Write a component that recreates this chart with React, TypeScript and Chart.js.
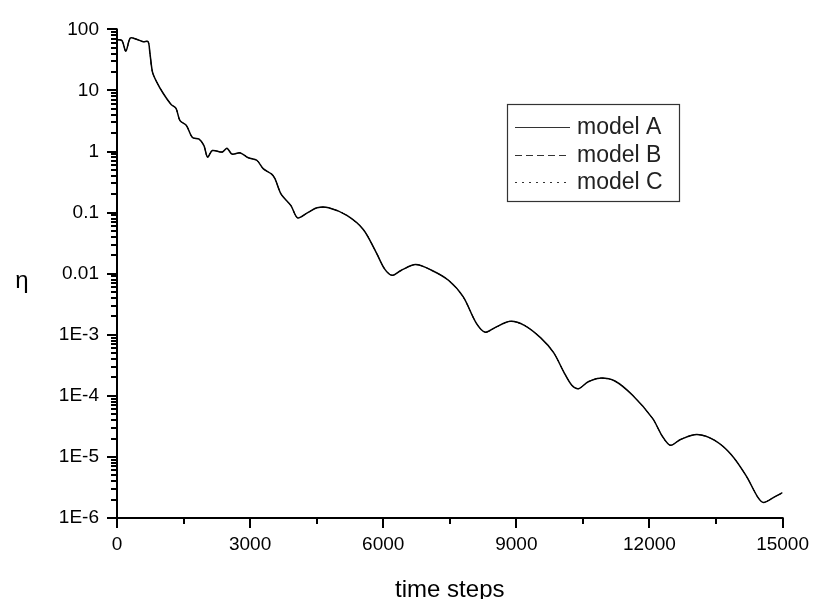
import React, { useEffect, useRef } from "react";
import { Chart, registerables } from "chart.js";

Chart.register(...registerables);

// time steps (x) and eta values (y)
const steps = [
  0, 110, 200, 300, 440, 590, 700, 740, 800, 890, 1040, 1220, 1330, 1420, 1560,
  1700, 1850, 1960, 2040, 2150, 2370, 2480, 2590, 2780, 2960, 3150, 3300, 3480,
  3560, 3700, 3920, 4070, 4290, 4510, 4770, 5180, 5550, 5840, 6030, 6200, 6400,
  6730, 7100, 7470, 7800, 8100, 8300, 8510, 8860, 9180, 9550, 9840, 10070, 10250,
  10400, 10620, 10880, 11220, 11620, 12070, 12290, 12470, 12700, 13070, 13470,
  13840, 14180, 14440, 14570, 14810, 15000,
];
const modelA = [
  68, 66, 44, 72, 69, 63, 63, 42, 20, 14, 9.0, 5.9, 5.1, 3.2, 2.7,
  1.7, 1.6, 1.25, 0.81, 1.04, 0.98, 1.13, 0.91, 0.95, 0.79, 0.72, 0.52, 0.43,
  0.36, 0.2, 0.13, 0.082, 0.099, 0.12, 0.12, 0.09, 0.053, 0.0224, 0.012, 0.0094, 0.0113,
  0.0141, 0.0113, 0.0078, 0.0042, 0.00154, 0.0011, 0.0013, 0.00166, 0.00143, 0.00089, 0.00051, 0.000245, 0.000149,
  0.000131, 0.00017, 0.000195, 0.000175, 0.000102, 0.0000427, 0.0000218, 0.0000155, 0.0000193, 0.0000233, 0.0000187,
  0.000011, 0.0000049, 0.0000022, 0.0000018, 0.0000022, 0.0000026,
];
const modelB = modelA.slice();
const modelC = modelA.slice();

const seriesNames = ["model A", "model B", "model C"];
const seriesDashes: number[][] = [[], [7, 4], [2, 5]];

const yTickValues = [1e-6, 1e-5, 1e-4, 1e-3, 0.01, 0.1, 1, 10, 100];
const yTickLabels = ["1E-6", "1E-5", "1E-4", "1E-3", "0.01", "0.1", "1", "10", "100"];
const xMajorStep = 3000;
const xMinorStep = 1500;
const xMax = 15000;
const xTitle = "time steps";
const yTitle = "η";

const FONT = "'Liberation Sans', Arial, Helvetica, sans-serif";

const axesPlugin = {
  id: "originAxes",
  afterDraw(chart: any) {
    const { ctx, chartArea } = chart;
    const xs = chart.scales.x;
    const ys = chart.scales.y;
    const L = chartArea.left;
    const B = chartArea.bottom;
    ctx.save();
    ctx.strokeStyle = "#000";
    ctx.lineWidth = 2;
    ctx.beginPath();
    ctx.moveTo(L, ys.getPixelForValue(100) - 1);
    ctx.lineTo(L, B);
    ctx.lineTo(xs.getPixelForValue(xMax) + 1, B);
    ctx.stroke();
    // y ticks
    for (let e = -6; e <= 2; e++) {
      for (let k = 1; k <= 9; k++) {
        const v = k * Math.pow(10, e);
        if (v > 100.0001) break;
        const p = Math.round(ys.getPixelForValue(v));
        const len = k === 1 ? 10 : 6;
        ctx.beginPath();
        ctx.moveTo(L - len, p);
        ctx.lineTo(L, p);
        ctx.stroke();
      }
    }
    // x ticks
    for (let v = 0; v <= xMax; v += xMinorStep) {
      const p = Math.round(xs.getPixelForValue(v));
      const len = v % xMajorStep === 0 ? 10 : 6;
      ctx.beginPath();
      ctx.moveTo(p, B);
      ctx.lineTo(p, B + len);
      ctx.stroke();
    }
    // axis titles
    ctx.fillStyle = "#000";
    ctx.font = `24px ${FONT}`;
    ctx.textAlign = "center";
    ctx.textBaseline = "alphabetic";
    ctx.fillText(xTitle, (chartArea.left + chartArea.right) / 2, 597);
    ctx.fillText(yTitle, 22, 288);

    // legend
    const bx = 507.5, by = 104.5, bw = 172, bh = 97;
    ctx.strokeStyle = "#333";
    ctx.lineWidth = 1.2;
    ctx.strokeRect(bx, by, bw, bh);
    const rows = [127, 155, 182];
    ctx.font = `23px ${FONT}`;
    ctx.textAlign = "left";
    ctx.textBaseline = "middle";
    seriesNames.forEach((name, i) => {
      ctx.save();
      ctx.strokeStyle = "#333";
      ctx.lineWidth = 1;
      ctx.setLineDash(seriesDashes[i]);
      ctx.beginPath();
      ctx.moveTo(515, rows[i] + 0.5);
      ctx.lineTo(570, rows[i] + 0.5);
      ctx.stroke();
      ctx.restore();
      ctx.fillStyle = "#222";
      ctx.fillText(name, 577, rows[i] + 1);
    });
    ctx.restore();
  },
};

export default function App() {
  const ref = useRef<HTMLCanvasElement | null>(null);
  useEffect(() => {
    document.body.style.margin = "0";
    const canvas = ref.current!;
    const mk = (data: number[], i: number) => ({
      label: seriesNames[i],
      data: steps.map((s, j) => ({ x: s, y: data[j] })),
      borderColor: "#000",
      borderWidth: i === 0 ? 1.5 : 1,
      borderDash: seriesDashes[i],
      pointRadius: 0,
      tension: 0.3,
      fill: false,
      order: 3 - i,
    });
    const chart = new Chart(canvas, {
      type: "line",
      data: {
        datasets: [mk(modelA, 0), mk(modelB, 1), mk(modelC, 2)],
      },
      options: {
        animation: false,
        responsive: false,
        devicePixelRatio: 1,
        layout: { padding: { top: 22, right: 32, left: 0, bottom: 0 } },
        plugins: { legend: { display: false }, tooltip: { enabled: false } },
        scales: {
          x: {
            type: "linear",
            min: 0,
            max: xMax,
            afterFit: (s: any) => {
              s.height = 81;
            },
            afterBuildTicks: (s: any) => {
              const t = [];
              for (let v = 0; v <= xMax; v += xMajorStep) t.push({ value: v });
              s.ticks = t;
            },
            grid: { display: false, drawTicks: false },
            border: { display: false },
            ticks: {
              autoSkip: false,
              maxRotation: 0,
              padding: 15,
              color: "#000",
              font: { family: FONT, size: 19 },
              callback: (v: any) => String(v),
            },
          },
          y: {
            type: "logarithmic",
            min: 1e-6,
            max: 100,
            afterFit: (s: any) => {
              s.width = 117;
            },
            afterBuildTicks: (s: any) => {
              s.ticks = yTickValues.map((v) => ({ value: v }));
            },
            grid: { display: false, drawTicks: false },
            border: { display: false },
            ticks: {
              autoSkip: false,
              padding: 18,
              color: "#000",
              font: { family: FONT, size: 19 },
              callback: (v: any) => {
                const i = yTickValues.findIndex((t) => Math.abs(Math.log10(t) - Math.log10(v)) < 1e-6);
                return i >= 0 ? yTickLabels[i] : "";
              },
            },
          },
        },
      },
      plugins: [axesPlugin],
    });
    return () => chart.destroy();
  }, []);
  return (
    <div style={{ position: "absolute", left: 0, top: 0, width: 824, height: 599, background: "#fff" }}>
      <canvas ref={ref} width={824} height={599} style={{ width: 824, height: 599, display: "block" }} />
    </div>
  );
}
